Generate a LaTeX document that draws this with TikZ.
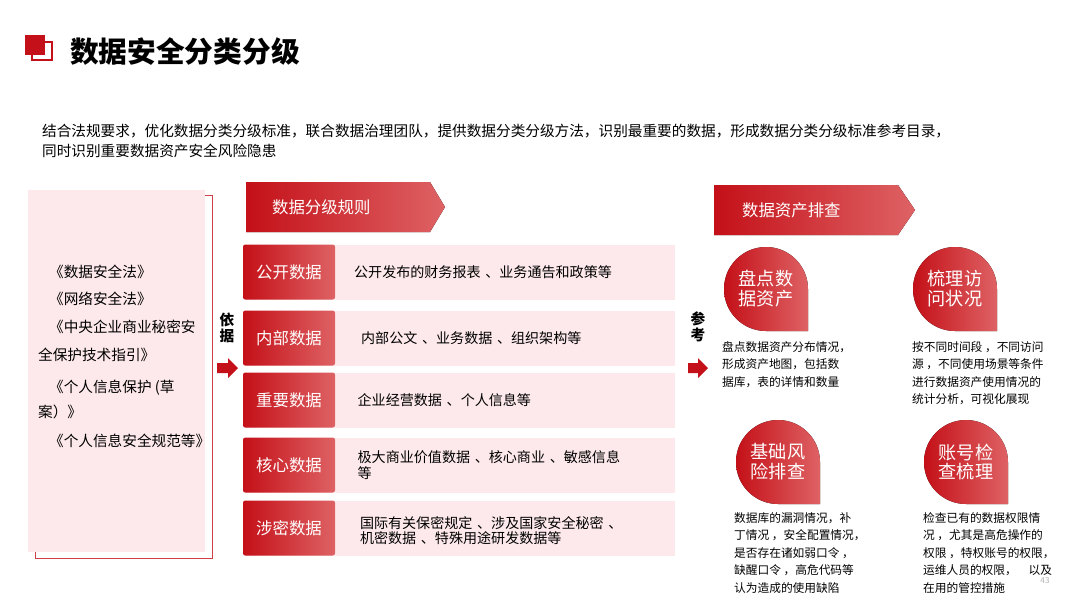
\documentclass[tikz,border=0pt]{standalone}
\usepackage{fontspec}
\setmainfont{Noto Sans CJK SC}
\usetikzlibrary{positioning}
\definecolor{dred}{RGB}{196,16,24}
\definecolor{lred}{RGB}{222,98,100}
\definecolor{pinkbg}{RGB}{253,233,235}
\begin{document}
\begin{tikzpicture}[x=0.03cm, y=-0.03cm,
                    banner/.style  = {left color = dred, right color = lred},
                    tagbox/.style  = {rectangle, rounded corners = 2pt, left color = dred, right color = lred, minimum width = 92*0.03cm, minimum height = 55*0.03cm, inner sep = 0pt, text = white, font = \fontsize{14}{16}\selectfont},
                    rowbox/.style  = {rectangle, fill = pinkbg, minimum width = 432*0.03cm, minimum height = 55*0.03cm, inner sep = 0pt},
                    desc/.style    = {anchor = west, align = left, font = \fontsize{12}{13}\selectfont, text width = 290*0.03cm},
                    law/.style     = {anchor = west, font = \fontsize{12.5}{14}\selectfont},
                    drop/.style    = {text = white, align = center, font = \fontsize{15.5}{17}\selectfont},
                    note/.style    = {anchor = north west, align = left, font = \fontsize{10}{15}\selectfont}
                    ]
    \useasboundingbox (0,0) rectangle (1080,608);

    % title
    \fill[dred] (25,35) rectangle (45,55);
    \draw[dred, line width = 1.5pt] (32,42) rectangle (52,60);
    \node[anchor = west, font = \fontsize{24.5}{27}\selectfont\bfseries] (title) at (66,52) {数据安全分类分级};
    \node[anchor = west, align = left, font = \fontsize{12.5}{17}\selectfont] (intro) at (38,141)
        {结合法规要求，优化数据分类分级标准，联合数据治理团队，提供数据分类分级方法，识别最重要的数据，形成数据分类分级标准参考目录，\\同时识别重要数据资产安全风险隐患};

    % laws
    \fill[pinkbg] (28,190) rectangle (205,552);
    \draw[dred!80, line width = 0.8pt] (205,195) -- (212,195) -- (212,558) -- (35,558) -- (35,552);
    \node[law] (l1) at (45,272) {《数据安全法》};
    \node[law] (l2) at (45,299) {《网络安全法》};
    \node[law] (l3) at (45,327) {《中央企业商业秘密安};
    \node[law] (l4) at (34,355) {全保护技术指引》};
    \node[law] (l5) at (45,388) {《个人信息保护 (草};
    \node[law] (l6) at (34,412) {案）》};
    \node[law] (l7) at (45,441) {《个人信息安全规范等》};

    \node[font = \fontsize{12.5}{14}\selectfont\bfseries, align = center] (basis) at (227,328) {依\\据};
    \fill[dred] (217,363) -- (228,363) -- (228,358) -- (238,368) -- (228,378) -- (228,373) -- (217,373) -- cycle;

    % grading rules
    \fill[banner] (246,182) -- (430,182) -- (445,207) -- (430,232) -- (246,232) -- cycle;
    \node[anchor = west, text = white, font = \fontsize{14}{16}\selectfont] (rules) at (268,207) {数据分级规则};

    \foreach \y/\tag/\txt in {272/公开数据/公开发布的财务报表 、业务通告和政策等,
                              338/内部数据/{\hspace{6pt}内部公文 、业务数据 、组织架构等},
                              400/重要数据/{\hspace{3pt}企业经营数据 、个人信息等},
                              465/核心数据/{\hspace{3pt}极大商业价值数据 、核心商业 、敏感信息\\\hspace{3pt}等},
                              528/涉密数据/{\\[2pt]\hspace{5pt}国际有关保密规定 、涉及国家安全秘密 、\\\hspace{5pt}机密数据 、特殊用途研发数据等}} {
        \node[rowbox] (row\y) at (459,\y) {};
        \node[tagbox] (tag\y) at (289,\y) {\tag};
        \node[desc] (desc\y) at (350,\y) {\txt};
    }

    % asset review
    \node[font = \fontsize{12.5}{14}\selectfont\bfseries, align = center] (ref) at (698,327) {参\\考};
    \fill[dred] (688,363) -- (698,363) -- (698,358) -- (708,368) -- (698,378) -- (698,373) -- (688,373) -- cycle;
    \fill[banner] (714,185) -- (898,185) -- (915,210) -- (898,235) -- (714,235) -- cycle;
    \node[anchor = west, text = white, font = \fontsize{14}{16}\selectfont] (review) at (738,210) {数据资产排查};

    \foreach \cx/\cy/\nm/\lbl in {766/289/d1/{盘点数\\据资产}, 955/289/d2/{梳理访\\问状况},
                                  778/462/d3/{基础风\\险排查}, 966/462/d4/{账号检\\查梳理}} {
        \fill[left color = dred, right color = lred] (\cx,\cy) circle[radius = 42*0.03cm] (\cx,\cy) rectangle ++(42,42);
        \node[drop] (\nm) at (\cx,\cy) {\lbl};
    }

    \node[note] (n1) at (718,337) {盘点数据资产分布情况，\\形成资产地图，包括数\\据库，表的详情和数量};
    \node[note] (n2) at (908,337) {按不同时间段 ，不同访问\\源 ，不同使用场景等条件\\进行数据资产使用情况的\\统计分析，可视化展现};
    \node[note] (n3) at (730,508) {数据库的漏洞情况，补\\丁情况 ，安全配置情况，\\是否存在诸如弱口令 ，\\缺醒口令 ，高危代码等\\认为造成的使用缺陷};
    \node[note] (n4) at (919,508) {检查已有的数据权限情\\况 ，尤其是高危操作的\\权限 ，特权账号的权限，\\运维人员的权限，\quad 以及\\在用的管控措施};
    \node[text = gray!60, font = \fontsize{7}{8}\selectfont] (page) at (1045,581) {43};
\end{tikzpicture}
\end{document}
